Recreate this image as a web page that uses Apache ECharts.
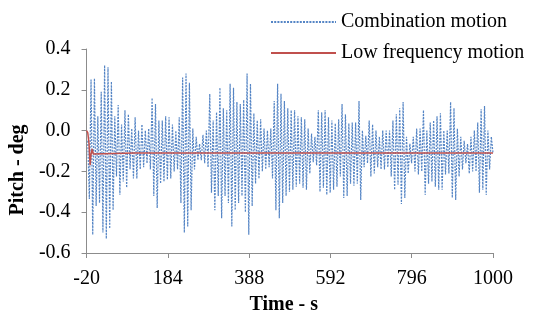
<!DOCTYPE html>
<html>
<head>
<meta charset="utf-8">
<script src="https://cdn.jsdelivr.net/npm/echarts@6/dist/echarts.min.js"></script>
<style>html,body{margin:0;padding:0;background:#fff}#c{width:534px;height:320px}</style>
</head>
<body>
<div id="c"></div>
<script>
// Tick labels
const xTicks = [-20, 184, 388, 592, 796, 1000];
const yMin = -0.6, yMax = 0.4, yStep = 0.2;

// Combination motion: successive peak and trough values
const comboStartTime = -17;
const comboStartValue = -0.05;
const comboFirstTime = -13;
const comboLastTime = 1000;
const comboPeaks = [0.25,0.255,0.07,0.19,0.32,0.31,0.24,0.07,0.125,0.03,
0.10,0.08,0.01,0.065,0.0,0.03,0.0,0.01,0.16,0.13,
0.05,0.05,0.07,0.065,0.03,0.0,0.065,0.26,0.28,0.235,
0.01,-0.03,-0.065,-0.02,0.0,0.18,0.05,0.09,0.21,0.11,
0.10,0.23,0.21,0.14,0.13,0.15,0.28,0.23,0.085,0.05,
0.055,0.01,0.0,0.01,0.145,0.23,0.18,0.145,0.11,0.10,
0.10,0.07,0.065,0.055,0.01,-0.015,-0.03,0.10,0.09,0.10,
0.065,0.05,0.035,0.055,0.13,0.08,0.035,0.04,0.04,0.145,
0.0,-0.025,0.05,0.03,0.0,-0.03,0.0,0.0,0.0,0.05,
0.08,0.11,0.14,-0.03,-0.065,-0.03,0.01,0.01,0.10,0.0,
0.04,0.05,0.07,0.085,0.0,0.0,0.14,0.11,0.01,-0.03,
-0.05,-0.065,-0.03,0.0,0.04,0.105,0.12,0.0,-0.03];
const comboTroughs = [-0.335,-0.51,-0.37,-0.355,-0.50,-0.53,-0.48,-0.39,-0.225,-0.315,
-0.25,-0.28,-0.19,-0.235,-0.235,-0.19,-0.18,-0.16,-0.19,-0.32,
-0.38,-0.26,-0.25,-0.24,-0.235,-0.2,-0.19,-0.355,-0.50,-0.47,
-0.39,-0.19,-0.145,-0.145,-0.16,-0.18,-0.305,-0.39,-0.32,-0.43,
-0.32,-0.355,-0.47,-0.39,-0.355,-0.32,-0.40,-0.51,-0.37,-0.26,
-0.235,-0.2,-0.19,-0.18,-0.235,-0.39,-0.43,-0.355,-0.32,-0.30,
-0.29,-0.275,-0.26,-0.28,-0.29,-0.21,-0.155,-0.17,-0.30,-0.28,
-0.315,-0.305,-0.29,-0.275,-0.225,-0.33,-0.32,-0.26,-0.27,-0.26,
-0.34,-0.18,-0.16,-0.225,-0.21,-0.18,-0.19,-0.19,-0.18,-0.225,
-0.29,-0.265,-0.36,-0.33,-0.21,-0.16,-0.2,-0.215,-0.2,-0.315,
-0.26,-0.25,-0.275,-0.29,-0.29,-0.215,-0.21,-0.33,-0.34,-0.225,
-0.19,-0.16,-0.21,-0.2,-0.2,-0.305,-0.29,-0.315,-0.19,-0.11];

// Low frequency motion
const lowTimes = [-20,-17,-14,-11,-9,-6,-3,2,100,200,300,400,500,600,700,800,900,1000];
const lowValues = [0.0,-0.01,-0.06,-0.17,-0.12,-0.09,-0.115,-0.11,-0.11,-0.11,-0.11,-0.11,-0.11,-0.11,-0.11,-0.11,-0.11,-0.11];

// build series data
const extremes = [];
for (let i = 0; i < comboTroughs.length; i++) {
  extremes.push(comboTroughs[i]);
  if (i < comboPeaks.length) extremes.push(comboPeaks[i]);
}
const step = (comboLastTime - comboFirstTime) / (extremes.length - 1);
const comboData = [[comboStartTime, comboStartValue]].concat(
  extremes.map((v, i) => [comboFirstTime + i * step, v]));
const lowData = lowTimes.map((t, i) => [t, lowValues[i]]);

const font = '"Liberation Serif","Times New Roman",serif';
const axisColor = '#8c8c8c';
const blue = '#5585c5';
const red = '#c0504d';
const chart = echarts.init(document.getElementById('c'), null, {renderer: 'canvas'});
chart.setOption({
  animation: false,
  backgroundColor: '#fff',
  textStyle: {fontFamily: font},
  legend: {
    orient: 'vertical',
    left: 265,
    top: 7,
    itemWidth: 65,
    itemHeight: 14,
    itemGap: 11,
    itemStyle: {opacity: 0},
    textStyle: {fontFamily: font, fontSize: 20, color: '#000'},
    data: ['Combination motion', 'Low frequency motion']
  },
  grid: {left: 81, right: 41, top: 49, bottom: 63},
  xAxis: {
    type: 'value',
    min: -20, max: 1000, interval: 204,
    name: 'Time - s',
    nameLocation: 'middle',
    nameGap: 42,
    nameTextStyle: {fontFamily: font, fontSize: 20, fontWeight: 'bold', color: '#000', padding: [0, 12, 0, 0]},
    axisLine: {show: true, onZero: false, lineStyle: {color: axisColor, width: 1}},
    axisTick: {show: true, length: 5, lineStyle: {color: axisColor}, customValues: xTicks},
    axisLabel: {fontFamily: font, fontSize: 20, color: '#000', margin: 16, customValues: xTicks, formatter: v => String(v)},
    splitLine: {show: false}
  },
  yAxis: {
    type: 'value',
    min: yMin, max: yMax, interval: yStep,
    name: 'Pitch - deg',
    nameLocation: 'middle',
    nameRotate: 90,
    nameGap: 47,
    nameTextStyle: {fontFamily: font, fontSize: 20, fontWeight: 'bold', color: '#000', padding: [0, 38, 0, 0]},
    axisLine: {show: true, onZero: false, lineStyle: {color: axisColor, width: 1}},
    axisTick: {show: true, length: 5, lineStyle: {color: axisColor}},
    axisLabel: {fontFamily: font, fontSize: 20, color: '#000', margin: 16, formatter: v => v.toFixed(1)},
    splitLine: {show: false}
  },
  series: [
    {
      name: 'Combination motion',
      type: 'line',
      data: comboData,
      symbol: 'none',
      lineStyle: {color: blue, width: 1.2, type: [2, 1.2]},
      itemStyle: {color: blue},
      z: 2
    },
    {
      name: 'Low frequency motion',
      type: 'line',
      data: lowData,
      symbol: 'none',
      lineStyle: {color: red, width: 1.5},
      itemStyle: {color: red},
      z: 3
    }
  ]
});
</script>
</body>
</html>
